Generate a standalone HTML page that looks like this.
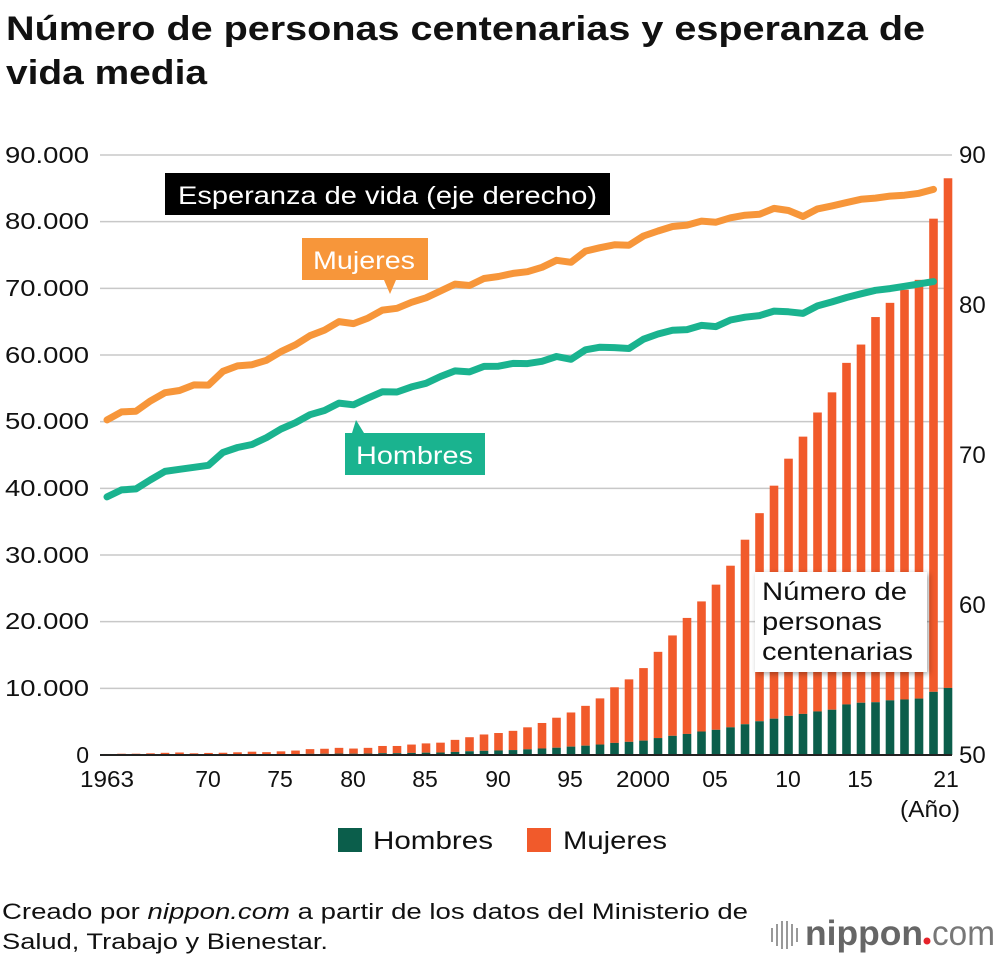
<!DOCTYPE html>
<html><head><meta charset="utf-8">
<style>
body{margin:0;background:#fff;font-family:"Liberation Sans",sans-serif;}
svg{display:block}
</style></head><body>
<svg id="s" width="1000" height="956" xmlns="http://www.w3.org/2000/svg" font-family="Liberation Sans, sans-serif">
<text x="6" y="40" font-size="34" font-weight="bold" fill="#111" textLength="919" lengthAdjust="spacingAndGlyphs">Número de personas centenarias y esperanza de</text>
<text x="6" y="84" font-size="34" font-weight="bold" fill="#111" textLength="201" lengthAdjust="spacingAndGlyphs">vida media</text>
<g id="grid" stroke="#c8c8c8" stroke-width="1.5"></g>
<g id="bars"></g>
<line x1="100" y1="755" x2="952" y2="755" stroke="#222" stroke-width="2"/>
<g font-size="23" fill="#111" text-anchor="end">
<text x="89" y="163" textLength="84" lengthAdjust="spacingAndGlyphs">90.000</text><text x="89" y="229" textLength="84" lengthAdjust="spacingAndGlyphs">80.000</text><text x="89" y="296" textLength="84" lengthAdjust="spacingAndGlyphs">70.000</text>
<text x="89" y="363" textLength="84" lengthAdjust="spacingAndGlyphs">60.000</text><text x="89" y="429" textLength="84" lengthAdjust="spacingAndGlyphs">50.000</text><text x="89" y="496" textLength="84" lengthAdjust="spacingAndGlyphs">40.000</text>
<text x="89" y="563" textLength="84" lengthAdjust="spacingAndGlyphs">30.000</text><text x="89" y="629" textLength="84" lengthAdjust="spacingAndGlyphs">20.000</text><text x="89" y="696" textLength="84" lengthAdjust="spacingAndGlyphs">10.000</text>
<text x="89" y="763">0</text></g>
<g font-size="24" fill="#111">
<text x="959" y="163">90</text><text x="959" y="313">80</text><text x="959" y="463">70</text>
<text x="959" y="613">60</text><text x="959" y="763">50</text></g>
<g font-size="23" fill="#111" text-anchor="middle">
<text x="107" y="787" textLength="54" lengthAdjust="spacingAndGlyphs">1963</text><text x="208" y="787">70</text><text x="280" y="787">75</text>
<text x="353" y="787">80</text><text x="425" y="787">85</text><text x="498" y="787">90</text>
<text x="570" y="787">95</text><text x="643" y="787" textLength="54" lengthAdjust="spacingAndGlyphs">2000</text><text x="715" y="787">05</text>
<text x="788" y="787">10</text><text x="860" y="787">15</text><text x="946" y="787">21</text>
<text x="930" y="817" textLength="60" lengthAdjust="spacingAndGlyphs">(Año)</text></g>
<g id="lines" fill="none" stroke-width="7" stroke-linejoin="round" stroke-linecap="round"></g>
<rect x="165" y="173" width="445" height="42" fill="#000"/>
<text x="178" y="204" font-size="25" fill="#fff" textLength="419" lengthAdjust="spacingAndGlyphs">Esperanza de vida (eje derecho)</text>
<rect x="302" y="238" width="126" height="42" fill="#f7963a"/>
<polygon points="384,280 396,280 390,294" fill="#f7963a"/>
<text x="313" y="269" font-size="25" fill="#fff" textLength="102" lengthAdjust="spacingAndGlyphs">Mujeres</text>
<rect x="345" y="433" width="140" height="42" fill="#1ab38f"/>
<polygon points="352,433 364,433 356,420" fill="#1ab38f"/>
<text x="356" y="464" font-size="25" fill="#fff" textLength="117" lengthAdjust="spacingAndGlyphs">Hombres</text>
<rect x="755" y="572" width="172" height="100" fill="#fff" style="filter:drop-shadow(2px 2px 3px rgba(0,0,0,.35))"/>
<text font-size="25" fill="#111"><tspan x="762" y="600" textLength="145" lengthAdjust="spacingAndGlyphs">Número de</tspan><tspan x="762" y="630" textLength="120" lengthAdjust="spacingAndGlyphs">personas</tspan><tspan x="762" y="660" textLength="151" lengthAdjust="spacingAndGlyphs">centenarias</tspan></text>
<rect x="338" y="828" width="24" height="24" fill="#0b5e4b"/>
<text x="373" y="849" font-size="25" fill="#111" textLength="120" lengthAdjust="spacingAndGlyphs">Hombres</text>
<rect x="527" y="828" width="24" height="24" fill="#f15a2b"/>
<text x="563" y="849" font-size="25" fill="#111" textLength="104" lengthAdjust="spacingAndGlyphs">Mujeres</text>
<text x="2" y="919" font-size="22" fill="#111" textLength="746" lengthAdjust="spacingAndGlyphs">Creado por <tspan font-style="italic">nippon.com</tspan> a partir de los datos del Ministerio de</text>
<text x="2" y="949" font-size="22" fill="#111" textLength="326" lengthAdjust="spacingAndGlyphs">Salud, Trabajo y Bienestar.</text>
<g fill="#999"><rect x="771" y="928" width="2" height="14"/><rect x="776" y="924" width="2" height="22"/><rect x="781" y="921" width="2" height="28"/><rect x="786" y="921" width="2" height="28"/><rect x="791" y="924" width="2" height="22"/><rect x="796" y="928" width="2" height="14"/></g>
<text x="805" y="945" font-size="35" fill="#666" font-weight="bold" textLength="118" lengthAdjust="spacingAndGlyphs">nippon</text>
<circle cx="927" cy="941" r="3.5" fill="#e6232a"/>
<text x="932" y="945" font-size="35" fill="#777" textLength="63" lengthAdjust="spacingAndGlyphs">com</text>
</svg>
<script>
var NS="http://www.w3.org/2000/svg";
function el(p,t,a){var e=document.createElementNS(NS,t);for(var k in a)e.setAttribute(k,a[k]);p.appendChild(e);return e;}
var g=document.getElementById('grid');
for(var i=1;i<=9;i++){var y=755-i*66.667;el(g,'line',{x1:100,x2:952,y1:y,y2:y});}
var tot=[153,191,198,252,327,375,252,310,339,405,495,427,548,666,882,937,1072,968,1072,1354,1354,1567,1740,1851,2271,2668,3078,3298,3625,4152,4802,5593,6378,7373,8491,10158,11346,13036,15475,17934,20561,23038,25554,28395,32295,36276,40399,44449,47756,51376,54397,58820,61568,65692,67824,69785,71274,80450,86510];
var men={1987:462,1988:562,1989:630,1990:680,1991:740,1992:850,1993:980,1994:1093,1995:1255,1996:1400,1997:1570,1998:1812,1999:1973,2000:2158,2001:2541,2002:2875,2003:3159,2004:3523,2005:3779,2006:4150,2007:4613,2008:5063,2009:5447,2010:5869,2011:6162,2012:6534,2013:6791,2014:7586,2015:7840,2016:7916,2017:8197,2018:8331,2019:8463,2020:9475,2021:10060};
var b=document.getElementById('bars');
function X(yr){return 107+(yr-1963)*14.5;}
for(var i=0;i<tot.length;i++){var yr=1963+i;var m=men[yr]||Math.round(tot[i]*0.2);
var yt=755-tot[i]/150,ym=755-m/150;
el(b,'rect',{x:X(yr)-4.3,y:yt,width:8.6,height:ym-yt,fill:'#f15a2b'});
el(b,'rect',{x:X(yr)-4.3,y:ym,width:8.6,height:755-ym,fill:'#0b5e4b'});}
var W=[72.34,72.87,72.92,73.61,74.15,74.30,74.67,74.66,75.58,75.94,76.02,76.31,76.89,77.35,77.95,78.33,78.89,78.76,79.13,79.66,79.78,80.18,80.48,80.93,81.39,81.30,81.77,81.90,82.11,82.22,82.51,82.98,82.85,83.59,83.82,84.01,83.99,84.60,84.93,85.23,85.33,85.59,85.52,85.81,85.99,86.05,86.44,86.30,85.90,86.41,86.61,86.83,87.05,87.13,87.26,87.32,87.45,87.71,87.57];
var M=[67.21,67.67,67.74,68.35,68.91,69.05,69.18,69.31,70.17,70.50,70.70,71.16,71.73,72.15,72.69,72.97,73.46,73.35,73.79,74.22,74.20,74.54,74.78,75.23,75.61,75.54,75.91,75.92,76.11,76.09,76.25,76.57,76.38,77.01,77.19,77.16,77.10,77.72,78.07,78.32,78.36,78.64,78.56,79.00,79.19,79.29,79.59,79.55,79.44,79.94,80.21,80.50,80.75,80.98,81.09,81.25,81.41,81.56,81.47];
var L=document.getElementById('lines');
function pts(a){return a.map(function(v,i){return X(1963+i).toFixed(1)+','+(755-(v-50)*15).toFixed(1);}).join(' ');}
el(L,'polyline',{points:pts(W).split(' ').slice(0,58).join(' '),stroke:'#f7963a'});
el(L,'polyline',{points:pts(M).split(' ').slice(0,58).join(' '),stroke:'#1ab38f'});
</script>
</body></html>
